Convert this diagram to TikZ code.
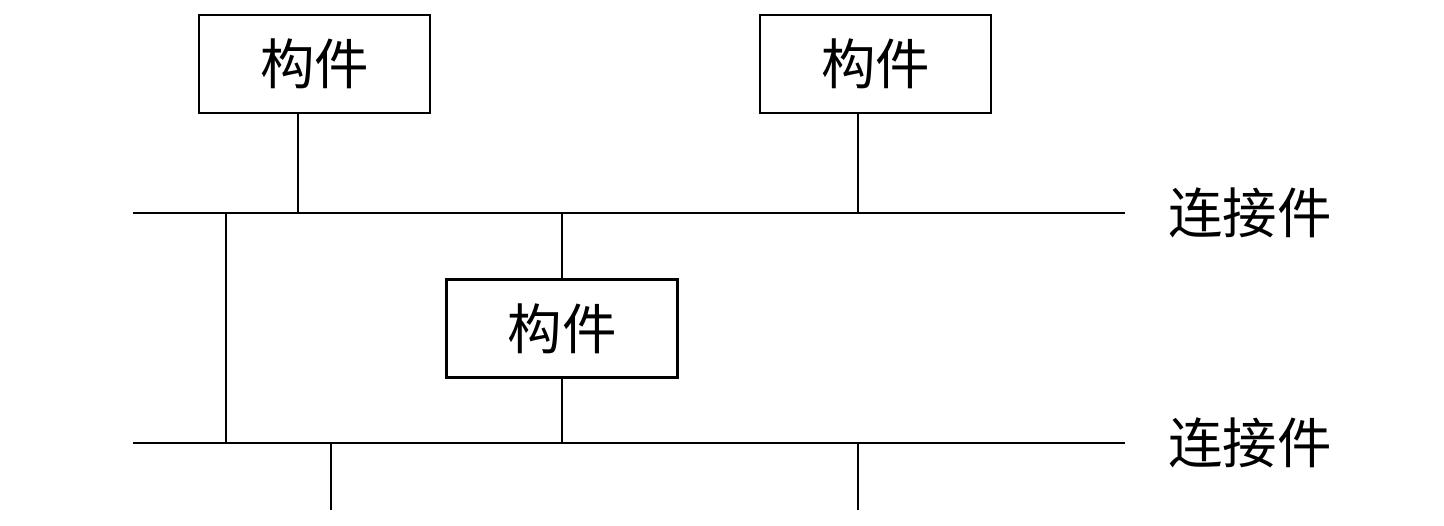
\documentclass[tikz,border=0pt]{standalone}
\usepackage{fontspec}
\newfontfamily\cjk{Noto Sans CJK SC}
\tikzset{
	part/.style={draw, line width=1.3pt, minimum width=4.62cm, minimum height=1.96cm, font=\cjk\fontsize{31}{31}\selectfont},
	bus/.style={line width=1.3pt},
	buslabel/.style={anchor=west, font=\cjk\fontsize{31}{31}\selectfont}
}
\begin{document}
\begin{tikzpicture}[x=0.02cm, y=-0.02cm]
	\useasboundingbox (0,0) rectangle (1444,526);
	\node[part] (p1) at (314.5, 64) {构件};
	\node[part] (p2) at (875.5, 64) {构件};
	\node[part] (p3) at (562, 328.5) {构件};

	% connectors
	\coordinate (t1) at (133, 213);
	\coordinate (t2) at (1125, 213);
	\coordinate (u1) at (133, 443);
	\coordinate (u2) at (1125, 443);
	\node[buslabel] (c1) at (1162, 213) {连接件};
	\node[buslabel] (c2) at (1162, 443) {连接件};

	\draw[bus] (t1) -- (t2);
	\draw[bus] (u1) -- (u2);

	% Draw the links between parts and connectors
	\coordinate (a1) at (298, 213);
	\coordinate (a2) at (858, 213);
	\draw[bus] (a1 |- p1.south) -- (a1);
	\draw[bus] (a2 |- p2.south) -- (a2);
	\draw[bus] (226, 213) -- (226, 443);
	\draw[bus] (p3.north) -- (p3.north |- t1);
	\draw[bus] (p3.south) -- (p3.south |- u1);
	\coordinate (e1) at (331, 510);
	\coordinate (e2) at (858, 510);
	\draw[bus] (e1 |- u1) -- (e1);
	\draw[bus] (e2 |- u1) -- (e2);
\end{tikzpicture}
\end{document}
